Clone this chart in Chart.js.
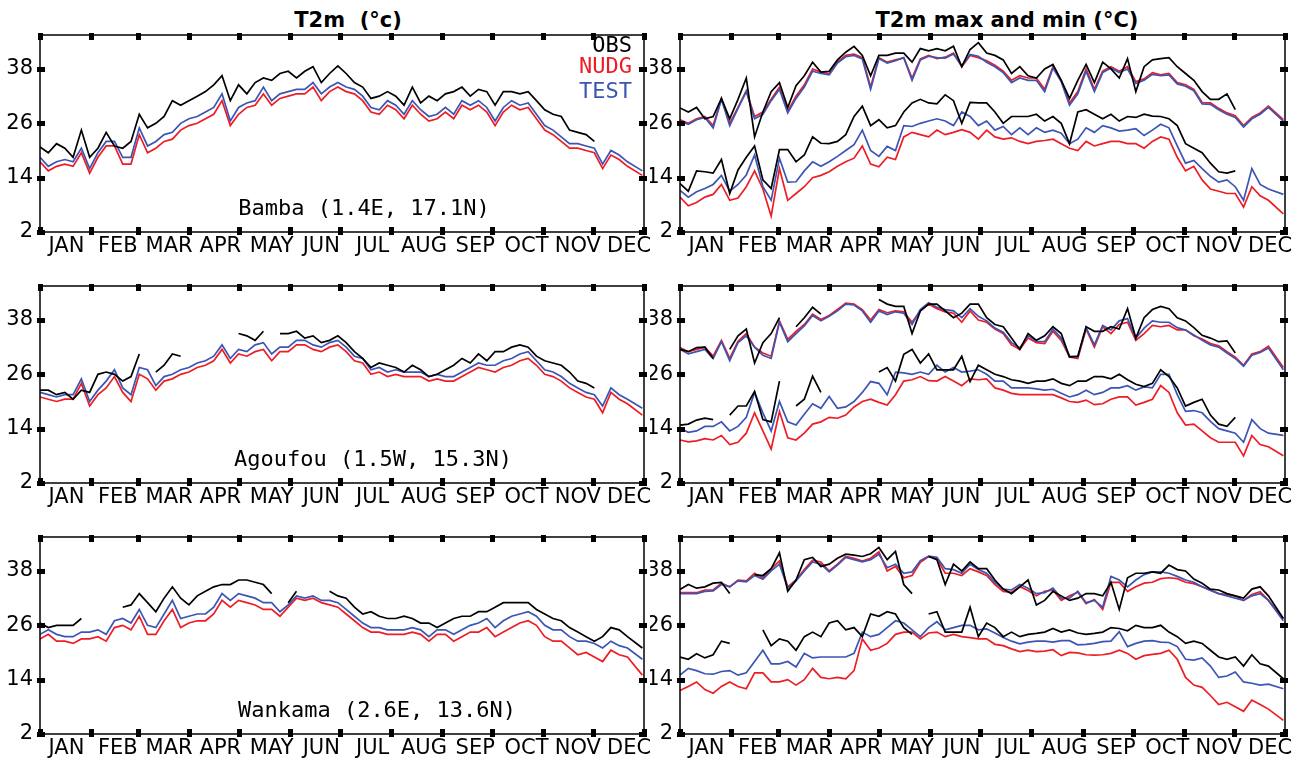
<!DOCTYPE html>
<html>
<head>
<meta charset="utf-8">
<script src="https://cdn.jsdelivr.net/npm/chart.js@4.4.1/dist/chart.umd.min.js"></script>
<style>
  body { margin: 0; background: #fff; width: 1295px; height: 758px; position: relative; overflow: hidden; }
  canvas { position: absolute; }
  .ttl { position: absolute; top: 8px; font: bold 21px "DejaVu Sans"; white-space: pre; text-align: center; width: 400px; color: #000; }
</style>
</head>
<body>
<div class="ttl" style="left:148px">T2m  (°c)</div>
<div class="ttl" style="left:807px">T2m max and min (°C)</div>
<canvas id="c1" width="650" height="258" style="left:0;top:0"></canvas>
<canvas id="c2" width="645" height="258" style="left:650px;top:0"></canvas>
<canvas id="c3" width="650" height="258" style="left:0;top:251px"></canvas>
<canvas id="c4" width="645" height="258" style="left:650px;top:251px"></canvas>
<canvas id="c5" width="650" height="258" style="left:0;top:502px"></canvas>
<canvas id="c6" width="645" height="258" style="left:650px;top:502px"></canvas>
<script>
// day of year for each sample (roughly every 5 days)
const days = [0,5,10,15,20,25,30,35,40,45,50,55,60,65,70,75,80,85,90,95,
  100,105,110,115,120,125,130,135,140,145,150,155,160,165,170,175,180,185,190,195,
  200,205,210,215,220,225,230,235,240,245,250,255,260,265,270,275,280,285,290,295,
  300,305,310,315,320,325,330,335,340,345,350,355,364];
const monthNames = ['JAN','FEB','MAR','APR','MAY','JUN','JUL','AUG','SEP','OCT','NOV','DEC'];
const labelDays = [16,47,78,109,140,170,201,232,263,294,325,356];
const monthStarts = [0,31,59,90,120,151,181,212,243,273,304,334,365];
const yTicks = [2,14,26,38];

// ---- T2m daily mean ----
const bambaObs = [20.8,19.5,21.5,20.5,18.5,24.5,18.5,20.5,24,21,
  20.5,22,28,25,26,27.5,31,30,31,32,
  33,34.5,36.5,31,34.5,32.5,35,36,35.5,37,
  37.5,36,37.5,38.5,35,37,38.7,37,35,34,
  31.5,32,33,32,30,34,30.5,32,31,32.5,
  33,34,32,33.5,33,30,33,33,32.5,33,
  31,29,28,27.5,24.5,24,23.5,22,null,null,
  null,null,null];
const bambaNudg = [17.5,15.5,16.5,17,16.5,19.5,15,18.5,21,21,
  17,17,23.5,19.5,20.5,22,22.5,24.5,25.5,26,
  27,28,31,25.5,28,29.5,30,32.5,30,31.5,
  32,32.5,32.5,34,31,33,34,33,32.5,31,
  28.5,28,30,29,27,30,28,26.5,27,28.5,
  27,30,29,30,28.5,25.5,28.5,30,29,29.5,
  27,24.5,23.5,22,20.5,20.5,20,19.5,16,19,
  18,16.5,14.5];
const bambaTest = [18.5,16.5,17.5,18,17.5,20.5,16,19.5,22,22,
  18.5,18.5,25,21,22,23.5,24,26,27,27.5,
  28.5,29.5,32.5,26.5,29.5,30.5,31,34,31,32.5,
  33,33.5,33.5,35,32.5,34,35,34,33.5,32,
  29.5,29,31,30,28,31,29,27.5,28,29.5,
  28,31,30,31,29.5,26.5,29.5,31,30,30.5,
  28,25.5,24.5,23,21.5,21.5,21,20.5,17,20,
  19,17.5,15.5];

const agoufouObs = [22.5,22.5,21.5,22,20.5,22.5,22,26,26.5,26,
  24.5,25.5,30.5,null,26.5,28,30.5,30,null,null,
  null,null,null,null,35,34.5,33.5,35.5,null,35,
  35,35.5,34,34.5,33,33.5,34.5,33,31,29.5,
  27.5,28.5,28,27.5,26.5,28,27,25.5,26,27,
  28,29.5,28.5,30.5,29,31,31,32,32.5,32,
  30,29,28.5,28,26.5,24.5,24,23,null,null,
  null,null,null];
const agoufouNudg = [21,20.5,20,20.5,20.5,24,19,21.5,23,25.5,
  22,20,26,25,22.5,24.5,25,26,26.5,27.5,
  28,29,31.5,28.5,30.5,30,31,31.5,29,31,
  31,32.5,32.5,31.5,31,32,32.5,31,29,28.5,
  26,26.5,25.5,26,25.5,25.5,25.5,24.5,25,24.5,
  24.5,25.5,26.5,27.5,27,26.5,27.5,28,29,29.5,
  28,26,25.5,24.5,23,22,21,20.5,17.5,22,
  20.5,19.5,17];
const agoufouTest = [22,21.5,21,21.5,21.5,25,20,22.5,24.5,27,
  23,21.5,27.5,27,23.5,25.5,26,27,27.5,28.5,
  29,30,32.5,29.5,31.5,31,32.5,33,30.5,32,
  32,33.5,33.5,32.5,32,33,33.5,32,30,29.5,
  27,27.5,26.5,27,26.5,26.5,26.5,25.5,26,25.5,
  25.5,26.5,27.5,28.5,28,28,29,29.5,30.5,31,
  29,27,26.5,25.5,24,23,22,21.5,19,23,
  21.5,20.5,18.5];

const wankamaObs = [26.5,25.5,26,26,26,27.5,null,null,null,null,
  30,30.5,33,31,29,32,34.5,32,30.5,32.5,
  33.5,34.5,35,35,36,36,35.5,35,33,null,
  31,33.5,null,null,null,33.5,32.5,32,30,28.5,
  29,28,27.5,27.5,28,27.5,26.5,26.5,25.5,26.5,
  27.5,28,28,29,29,30,31,31,31,31,
  29.5,28.5,27.5,27,25.5,24.5,23.5,22.5,23.5,25.5,
  25,23.5,21];
const wankamaNudg = [23,24,22.5,22.5,22,23,23,23.5,22.5,25.5,
  26,25,28,24,24,27,29.5,25.5,26.5,27,
  27,28.5,31.5,30,31.5,31,30.5,29.5,29.5,28,
  30,32,31.5,32,31,30.5,30,28.5,27,25.5,
  24.5,24.5,24,24,24,24.5,24,22.5,24,24,
  22.5,23.5,24.5,24.5,25.5,23.5,24.5,25.5,26.5,27,
  26,23.5,22.5,22.5,21,19.5,20,19,18,20.5,
  19.5,19,15];
const wankamaTest = [24,25,24,23.5,23.5,24.5,24.5,25,24,27,
  27.5,26.5,29.5,26,25.5,28.5,31.5,27.5,28,28.5,
  28.5,30,33,31.5,33,32.5,32,31,31,29,
  30.5,32.5,32,32.5,31.5,31.5,31,29.5,28,26.5,
  25.5,25.5,25,25,25,25.5,25,23.5,25,25,
  24,25,26,26.5,27.5,25.5,27,28,28.5,29,
  28,26,25,25,23.5,22.5,22.5,22,21,22.5,
  21.5,21,18.5];

// ---- T2m max and min ----
const bambaObsMax = [29.4,28.5,29.5,27,27.5,31.5,27,31.3,36,23,
  28.5,33,35,29.5,34.3,36.5,39.5,37.3,37.5,40,
  41.7,43,41,36.5,41,41,41.5,41.5,39.5,42.5,
  42,42.5,42,43,38.5,42.3,43.8,41.5,41,40,
  37,38.5,36.5,36,38,39,35.5,31.5,35.5,39,
  35,39.5,38,36,40.3,33,38.5,40,40.3,40.5,
  38.5,37,35.5,33,31.3,31.3,32.5,29,null,null,
  null,null,null];
const bambaNudgMax = [26.8,26,27,27.5,25.5,31.5,26,29.5,33.2,27.5,
  28.5,31.3,34,28.7,32,34.5,38,37.3,37,39.5,
  41,41.3,40.5,34,40.5,39.5,40,40.5,36,40.2,
  41,40.3,40.6,41.5,38.5,41,40.5,39.8,38.8,37.5,
  35.5,36.5,36,36,33.5,38.5,35.5,30.5,33,38,
  33.5,37.5,38.5,37.5,38.5,35.2,35.8,37.2,36.7,37,
  35,34.5,33.5,30.6,30.5,29.3,28.3,27.7,25.5,27.3,
  28.3,29.8,26.8];
const bambaTestMax = [26.5,25.8,26.8,27.3,25,31.3,25.5,29.3,33,27,
  28,31,33.5,28.3,31.5,34,37.5,37,36.7,39.3,
  40.7,41,40.2,33.5,40.3,39.3,39.8,40.5,35.5,40,
  40.8,40.5,40.4,41.3,38.7,41.2,40.8,39.5,38.5,37.2,
  35,36,35.5,35.5,33,38.2,35.2,30,32.5,37.5,
  33,37.2,38.2,37.2,38,34.8,35.5,36.8,36.5,36.7,
  34.7,34.2,33.2,30.3,30.2,29,28,27.3,25.2,27,
  28,29.5,26.5];
const bambaObsMin = [12.7,11,15.5,15.3,15,18,10.5,15.7,18.5,21,
  13.5,11.6,20.2,20.2,17.5,19,23,21.6,21.5,22,
  23.5,27.5,29.8,25.5,26.8,25,25.5,28.5,30.5,31.3,
  30.5,30.3,32.3,31,26,30.6,30.5,30.5,28.5,26,
  27.5,27.5,27.5,28,26.5,27.5,26,21.5,28.5,29,
  28,27,28,26.5,27.5,27.3,28,27.6,27.5,27,
  25.5,21.5,20.5,19.5,17.2,15.3,15,15.5,null,null,
  null,null,null];
const bambaNudgMin = [9.7,7.8,8.5,9.7,10.3,12.5,9,9.5,12,15.5,
  11.5,5.5,16,9,10.5,12,14,14.5,15.3,16.5,
  17.5,18.3,21,17,16.4,18.5,18,23,24,23.5,
  23,24.5,23.5,24,24.6,24,22.5,24.5,23,22.5,
  22.8,22,21.5,22,22.2,22.5,21.5,20.5,20,22,
  21,21.5,22,22,21.5,21.5,20.5,22,23,22.5,
  18.5,15.5,16.5,13.5,11.5,11,10.5,10.5,7.5,12,
  10,9,6];
const bambaTestMin = [11.2,9.7,10.9,11.6,12.5,14.5,11,12.5,14.6,19,
  12,9,18.3,13,13.1,15.5,17.5,16.5,17.5,18.7,
  20,21.3,24.5,20,18.7,20.9,20,25.5,25.3,26,
  26.5,27,26.5,25.5,28.5,27.5,25.5,26.5,24.5,25.3,
  23.5,25,23.5,25,24,24.5,23.8,21.5,22.5,25,
  24,25.5,25,24.3,24.5,24.8,23.3,24.5,25.8,25,
  21,17.2,17.8,16,14.3,13,13.5,12,9,16,
  12.5,11.5,10.3];

const agoufouObsMax = [31.5,31,31.9,32,29.5,null,31.5,34.5,36,28.5,
  33,35,38.5,null,36.5,38.5,40.8,39.3,null,null,
  null,null,null,null,42.5,41.5,41,41,35,40,
  41.5,41.5,40,38.5,39.5,41.5,41.5,38.5,37,36.5,
  34,31.5,35,33.5,34.5,36.5,35,29.8,30,36.5,
  35.5,35.5,36.5,36,40.5,34,38.5,40.3,41,40.5,
  38.5,37.8,36.3,34.6,34,33.2,33.4,30.7,null,null,
  null,null,null];
const agoufouNudgMax = [31.9,31,31.5,32,30,33.5,29.5,33.3,35,32,
  30.7,30,37.8,33.7,35.5,37,39.3,38.1,39,40.3,
  41.7,41.5,40.3,38,40.3,39.6,40,39.8,37.5,40,
  41.5,40.5,39.8,39.5,37.5,40,38,37.5,36,35,
  32.5,31.5,34,33,32.8,35.5,33.5,29.8,29.5,36,
  32,36.5,35,37,37.5,33.5,35,36.8,36.5,36.8,
  35.8,35.8,34.5,33.8,32.8,32.3,31,29.8,28,30.5,
  31,32.2,27.5];
const agoufouTestMax = [31.5,30.5,31,31.5,29.5,33.2,29,33,34.5,32,
  30.2,29.5,37.5,33.2,35,36.7,39,37.8,38.8,40,
  41.5,41.3,40,37.5,40,39.2,39.8,39.5,37,40.3,
  41.8,40.8,40.3,40,38.5,40.5,38.8,37.8,36.2,35.3,
  33,31.8,34.5,33.3,33.2,36,34,30,29.8,36.3,
  32.5,36.8,35.8,37.8,38.3,34,36.2,37.8,37.5,37.5,
  36.3,35.8,34.7,33.5,32.5,32,30.7,29.5,27.8,30.2,
  30.8,31.8,27];
const agoufouObsMin = [14.8,15,15.9,16.3,16,null,17,19,19,22.2,
  16,15.5,24.5,null,19,20.5,25.6,22,null,null,
  null,null,null,null,26.5,27.5,24.5,30.4,31.5,28.5,
  30.5,27,27,27,30,24.4,28,27,26,25.5,
  24.8,24.5,24,24.5,24.5,25,24,23.5,24.5,24.5,
  25.5,25.5,25,26,24.8,23.8,23.3,24,27,25.5,
  23,19,19.8,20.5,17,15,14.5,16.5,null,null,
  null,null,null];
const agoufouNudgMin = [11.5,11.1,11.3,11.8,11.5,12.5,10.5,11,13,17.5,
  13.5,9.5,17.8,12,11.5,13,15,15.5,16.5,16.3,
  17,18.8,20,20.5,19.8,19.2,21.5,24.5,24.8,25.5,
  24.6,24.5,25.5,24.5,23.5,25,24.8,25,23,22.5,
  21.8,21.5,21.5,21.5,21.5,21.5,20.8,20,19.8,20.3,
  19.3,19.5,20.5,21,21,19.2,19.8,20.5,23.5,22,
  17.5,14.8,15,13.5,12,11,11,11,8,12.5,
  10.5,10,8];
const agoufouTestMin = [14.1,13.2,13.5,14.5,14.5,15.5,13.5,14.5,16.5,22,
  17.5,13.5,20,15.5,14.8,17.2,19.5,18.5,21.1,18.5,
  18.8,20,22,24.4,24,21.5,26.5,26.3,26,26.5,
  26,28,26.5,27.5,26.5,26.7,27,26,24.5,24.5,
  23,23,23,22.8,22.5,22.7,21.8,21,21.5,22.5,
  21.5,22,23,23,23.5,22.5,23.2,23,26,26,
  21.5,17.8,18,17.5,15.6,14,13.5,13,11,16,
  14,13,12.5];

const wankamaObsMax = [33.9,35,34.2,34.5,35.3,35.5,33,null,null,37.2,
  37,38.5,42,33.5,36,40.5,41,39,39.5,40.8,
  41.7,41.5,41.2,41.8,43.2,40.5,42.3,35,33,null,
  41.2,40.5,35,39.5,38,40,38.5,38.5,36,34,
  33,34.5,36,30.5,31.5,33.5,32.5,31.5,32,33,
  33,32.5,35.5,29.5,36.5,37.5,37.5,37.8,37.5,39.3,
  38.3,38,36.2,35.3,34,33.8,33,32.5,32,34,
  34.5,32.5,27.5];
const wankamaNudgMax = [33.2,33.2,33.2,33.8,33.8,35.3,34.5,36,35.8,37.5,
  36.5,38.5,40.2,34.5,36,38.3,40.4,40,38,39.5,
  41.2,40.8,40.2,40.8,42.2,38,39,36.5,37,39.9,
  41.2,40.7,37.5,37.5,37,38.5,37.8,37,35,33.5,
  33.3,34.5,33.7,32.5,33.5,33.8,31.5,32.5,33.3,30.8,
  31.7,29.5,35.5,35.5,33.5,34.5,35.3,35.5,36.3,36.5,
  36.3,35.5,35.2,34.5,33.8,33,32.8,32.5,31.5,32.8,
  33.4,31.5,27.5];
const wankamaTestMax = [33,33,33,33.5,33.6,35,34.5,35.8,35.6,37,
  36.2,38,39.5,34.2,35.8,38,40,39.5,37.8,39.3,
  41,40.5,40,40.5,41.7,38.7,39.5,37.5,37.8,40.3,
  41.3,41,38.5,38.3,37.5,39.5,38.3,37.5,35.5,34,
  33.8,35,34.2,33,33.2,34.2,32,32,33.5,31,
  31.5,30,36.8,36,34.5,36,37.2,37.8,37.8,37.5,
  36.8,36,35.5,34.5,33.7,33,32.5,32,31.5,32.5,
  33,31.5,27];
const wankamaObsMin = [19,18.5,19.7,18.8,19.5,22.5,22,null,null,null,
  25,21.5,23,22.5,20.5,23.5,24.5,23.5,26.5,27,
  25,25.5,23.5,28.5,28,29,28.5,25.5,24,null,
  28.5,29,24.5,24.5,24.5,30,23.5,26.5,25.5,23.5,
  24.5,23.5,24,24.2,24.5,25.3,24.5,25,24.3,24,
  24.2,24.5,25.5,25.3,24.8,26,25.5,25.5,26,24.5,
  23.5,22,22.5,22,20.5,19,18.5,19,17,19.5,
  17.5,17,14.2];
const wankamaNudgMin = [11.6,12.5,13.5,11.8,11,12.5,13.5,12.5,12,15.5,
  15.5,13.5,13.5,14,12.8,14,16.5,14.5,14.2,14.5,
  14.2,16,23,20.5,21,22,24,24.5,24.5,23,
  24.3,24.5,23.5,24,23.5,23.3,23,23,21.8,21.5,
  20.8,20.2,20.5,20.2,20.3,20.6,19.3,20,19.9,19.5,
  19.4,19.5,19.8,20.5,19.8,18.5,19.3,19.6,19.8,20.5,
  18.5,14.5,12.8,12.3,10.5,8.5,9,8,7,9.5,
  8.5,7.5,5];
const wankamaTestMin = [15,16.5,16,15.3,15.2,15.8,16,15,15.5,18,
  20.5,17.5,17.5,18,16.8,19.8,18.8,19,19,19,
  19,19.8,24.5,23.5,24,25.5,27,26.5,25,23.5,
  25.5,26.8,25,25.5,26,26,25,25.2,24.3,23.3,
  22.5,21.9,22.3,22.5,22.5,22.3,22.6,22.6,21.7,21.8,
  22,22.4,22.5,24.6,21.3,22,22.5,22.6,22.3,22.2,
  21.3,18.5,18.3,18.8,17,14.5,14.8,15.7,13.5,13.2,
  12.8,13,12];

const BLACK = '#000000', RED = '#ee1c25', BLUE = '#3c55b4';
const legendItems = [['OBS', BLACK], ['NUDG', RED], ['TEST', BLUE]];

const pts = vals => days.map((d, i) => ({ x: d, y: vals[i] }));
const line = (label, vals, color) => ({
  label, data: pts(vals), borderColor: color, borderWidth: 1.7,
  pointRadius: 0, fill: false, tension: 0, spanGaps: false
});

// frame, inward tick marks, station name and legend
const decor = {
  id: 'decor',
  afterDraw(chart, args, o) {
    const { ctx, chartArea: a, scales: { x, y } } = chart;
    ctx.save();
    ctx.strokeStyle = '#000';
    ctx.lineWidth = 1.5;
    ctx.strokeRect(a.left, a.top, a.right - a.left, a.bottom - a.top);
    ctx.fillStyle = '#000';
    monthStarts.forEach(d => {
      const px = Math.round(x.getPixelForValue(d));
      ctx.fillRect(px - 2, a.top - 2, 5, 7);
      ctx.fillRect(px - 2, a.bottom - 5, 5, 8);
    });
    yTicks.forEach(v => {
      const py = Math.round(y.getPixelForValue(v));
      ctx.fillRect(a.left - 3, py - 2, 8, 5);
      ctx.fillRect(a.right - 5, py - 2, 8, 5);
    });
    if (o.station) {
      ctx.font = '22px "DejaVu Sans Mono"';
      ctx.textAlign = 'center';
      ctx.textBaseline = 'middle';
      ctx.fillText(o.station, a.left + o.stationX, a.top + 174);
    }
    if (o.legend) {
      ctx.font = '22px "DejaVu Sans Mono"';
      ctx.textAlign = 'right';
      ctx.textBaseline = 'middle';
      const offs = [11, 32, 57];
      legendItems.forEach(([t, c], i) => {
        ctx.fillStyle = c;
        ctx.fillText(t, a.right - 12, a.top + offs[i]);
      });
    }
    ctx.restore();
  }
};

function panel(id, datasets, o) {
  const tickFont = { family: 'DejaVu Sans', size: 21 };
  return new Chart(document.getElementById(id), {
    type: 'line',
    data: { datasets },
    options: {
      responsive: false,
      animation: false,
      devicePixelRatio: 1,
      layout: { padding: { top: 35, right: o.padRight, left: 0, bottom: 0 } },
      plugins: { legend: { display: false }, tooltip: { enabled: false }, decor: o },
      scales: {
        x: {
          type: 'linear', min: 0, max: 365,
          grid: { display: false, drawTicks: false }, border: { display: false },
          afterBuildTicks: s => { s.ticks = labelDays.map(v => ({ value: v })); },
          ticks: {
            color: '#000', font: tickFont, padding: 2, maxRotation: 0, autoSkip: false,
            callback: v => monthNames[labelDays.indexOf(v)]
          },
          afterFit: s => { s.height = 26; s.paddingLeft = 0; s.paddingRight = 0; }
        },
        y: {
          min: 2, max: 45.5,
          grid: { display: false, drawTicks: false }, border: { display: false },
          afterBuildTicks: s => { s.ticks = yTicks.map(v => ({ value: v })); },
          ticks: { color: '#000', font: tickFont, padding: 7 },
          afterFit: s => { s.width = o.axisW; }
        }
      }
    },
    plugins: [decor]
  });
}

const left = { padRight: 6, axisW: 40 };
const right = { padRight: 10, axisW: 30 };

panel('c1', [line('OBS', bambaObs, BLACK), line('TEST', bambaTest, BLUE), line('NUDG', bambaNudg, RED)],
  { ...left, station: 'Bamba (1.4E, 17.1N)', stationX: 324, legend: true });
panel('c3', [line('OBS', agoufouObs, BLACK), line('TEST', agoufouTest, BLUE), line('NUDG', agoufouNudg, RED)],
  { ...left, station: 'Agoufou (1.5W, 15.3N)', stationX: 333 });
panel('c5', [line('OBS', wankamaObs, BLACK), line('TEST', wankamaTest, BLUE), line('NUDG', wankamaNudg, RED)],
  { ...left, station: 'Wankama (2.6E, 13.6N)', stationX: 337 });

panel('c2', [line('OBS max', bambaObsMax, BLACK), line('OBS min', bambaObsMin, BLACK),
  line('TEST max', bambaTestMax, BLUE), line('TEST min', bambaTestMin, BLUE),
  line('NUDG max', bambaNudgMax, RED), line('NUDG min', bambaNudgMin, RED)], { ...right });
panel('c4', [line('OBS max', agoufouObsMax, BLACK), line('OBS min', agoufouObsMin, BLACK),
  line('TEST max', agoufouTestMax, BLUE), line('TEST min', agoufouTestMin, BLUE),
  line('NUDG max', agoufouNudgMax, RED), line('NUDG min', agoufouNudgMin, RED)], { ...right });
panel('c6', [line('OBS max', wankamaObsMax, BLACK), line('OBS min', wankamaObsMin, BLACK),
  line('TEST max', wankamaTestMax, BLUE), line('TEST min', wankamaTestMin, BLUE),
  line('NUDG max', wankamaNudgMax, RED), line('NUDG min', wankamaNudgMin, RED)], { ...right });
</script>
</body>
</html>
